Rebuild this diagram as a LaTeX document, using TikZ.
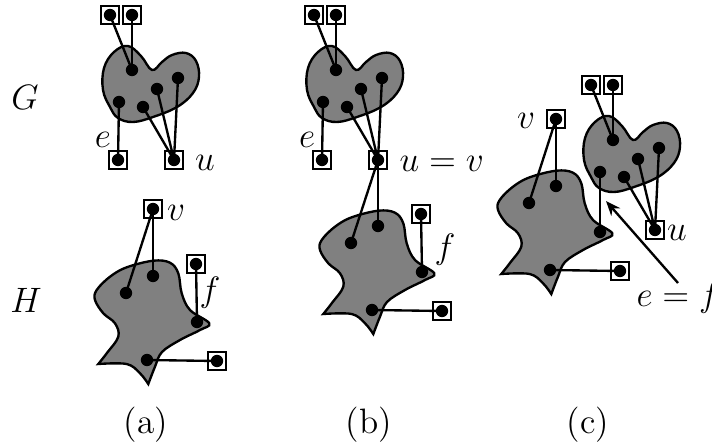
\documentclass[tikz,border=0pt]{standalone}
\usetikzlibrary{arrows.meta}
\newcommand\Gblob{\draw[blob] plot[smooth cycle,tension=0.65] coordinates{(128,46) (141,56) (152,70) (162,62) (172,55) (186,53) (196,61) (199,77) (193,93) (177,107) (153,117) (133,122) (118,118) (110,107) (103,90) (104,68) (114,52)};}
\newcommand\Hblob{\draw[blob] plot[smooth,tension=0.6] coordinates{(148.3,384) (155,366.7) (162,352) (180,340) (200,330) (209.3,323.3) (190,310) (181.7,293.3) (178.3,273.3) (170,262.7) (153.3,260.7) (126.7,267.3) (110,276.7) (96.7,290) (95,300) (103.3,313.3) (115,323.3) (118.3,336.7) (106.7,353.3) (98.3,364)} -- plot[smooth,tension=0.6] coordinates{(98.3,364) (126.7,364) (140,373.3) (148.3,384)} -- cycle;}
\newcommand\Gdots[1]{%
  \node[dot] (#1g1) at (132,70) {};
  \node[dot] (#1g2) at (178,78) {};
  \node[dot] (#1g3) at (157,89) {};
  \node[dot] (#1g4) at (119,102) {};
  \node[dot] (#1g5) at (143,107) {};
  \node[vbox] (#1t1) at (110,15) {};
  \node[vbox] (#1t2) at (132,15) {};
  \draw[edge] (#1t1.center) -- (#1g1.center);
  \draw[edge] (#1t2.center) -- (#1g1.center);}
\newcommand\Hdots[1]{%
  \node[dot] (#1h1) at (153,276) {};
  \node[dot] (#1h2) at (126,293) {};
  \node[dot] (#1h3) at (197,322) {};
  \node[dot] (#1h4) at (147,360) {};
  \node[vbox] (#1hr) at (217,361) {};
  \draw[edge] (#1h4.center) -- (#1hr.center);}
\begin{document}
\begin{tikzpicture}[x=0.34pt,y=-0.34pt,font=\large,
  blob/.style={draw=black,line width=0.8pt,fill=black!50},
  edge/.style={line width=0.8pt},
  dot/.style={circle,fill=black,inner sep=0pt,minimum size=4.2pt},
  vbox/.style={draw,line width=0.4pt,inner sep=0pt,minimum size=6.1pt,
    path picture={\fill (path picture bounding box.center) circle (2.1pt);}},
  lab/.style={inner sep=0pt}]
\useasboundingbox (0,0) rectangle (712,447);
% ---------- panel (a)
\Gblob
\Gdots{a}
\Hblob
\Hdots{a}
\node[vbox] (ab1) at (118,160) {};
\node[vbox] (ab2) at (174,160) {};
\node[vbox] (ahv) at (153,209) {};
\node[vbox] (ahf) at (196,264) {};
\draw[edge] (ag4.center) -- (ab1.center);
\draw[edge] (ag5.center) -- (ab2.center);
\draw[edge] (ag3.center) -- (ab2.center);
\draw[edge] (ag2.center) -- (ab2.center);
\draw[edge] (ahv.center) -- (ah2.center);
\draw[edge] (ahv.center) -- (ah1.center);
\draw[edge] (ahf.center) -- (ah3.center);
\node[lab] (lG) at (25,97) {$G$};
\node[lab] (lH) at (26,300) {$H$};
\node[lab] (lea) at (103,140) {$e$};
\node[lab] (lua) at (205,163) {$u$};
\node[lab] (lva) at (176,213) {$v$};
\node[lab] (lfa) at (210,293) {$f$};
\node[lab] (capa) at (146,425) {(a)};
% ---------- panel (b)
\begin{scope}[shift={(204,0)}]
\Gblob
\Gdots{b}
\node[vbox] (bb1) at (118,160) {};
\node[vbox] (buv) at (174,160) {};
\end{scope}
\begin{scope}[shift={(225,-50)}]
\Hblob
\Hdots{b}
\node[vbox] (bhf) at (196,264) {};
\end{scope}
\draw[edge] (bg4.center) -- (bb1.center);
\draw[edge] (bg5.center) -- (buv.center);
\draw[edge] (bg3.center) -- (buv.center);
\draw[edge] (bg2.center) -- (buv.center);
\draw[edge] (buv.center) -- (bh2.center);
\draw[edge] (buv.center) -- (bh1.center);
\draw[edge] (bhf.center) -- (bh3.center);
\node[lab] (leb) at (307,140) {$e$};
\node[lab,anchor=west] (luvb) at (399,164) {$u=v$};
\node[lab] (lfb) at (445,250) {$f$};
\node[lab] (capb) at (369,425) {(b)};
% ---------- panel (c)
\begin{scope}[shift={(481,70)}]
\Gblob
\Gdots{c}
\node[vbox] (cu) at (174,160) {};
\end{scope}
\begin{scope}[shift={(403,-90)}]
\Hblob
\Hdots{c}
\node[vbox] (cv) at (153,209) {};
\end{scope}
\draw[edge] (cg5.center) -- (cu.center);
\draw[edge] (cg3.center) -- (cu.center);
\draw[edge] (cg2.center) -- (cu.center);
\draw[edge] (cv.center) -- (ch2.center);
\draw[edge] (cv.center) -- (ch1.center);
\draw[edge] (cg4.center) -- (ch3.center);
\coordinate (arrtail) at (678,283);
\coordinate (arrhead) at (606,201);
\draw[edge,-{Stealth[length=5pt,width=4pt]}] (arrtail) -- (arrhead);
\node[lab] (lvc) at (526,121) {$v$};
\node[lab] (luc) at (677,233) {$u$};
\node[lab,anchor=west] (lefc) at (636,298) {$e=f$};
\node[lab] (capc) at (588,425) {(c)};
\end{tikzpicture}
\end{document}
